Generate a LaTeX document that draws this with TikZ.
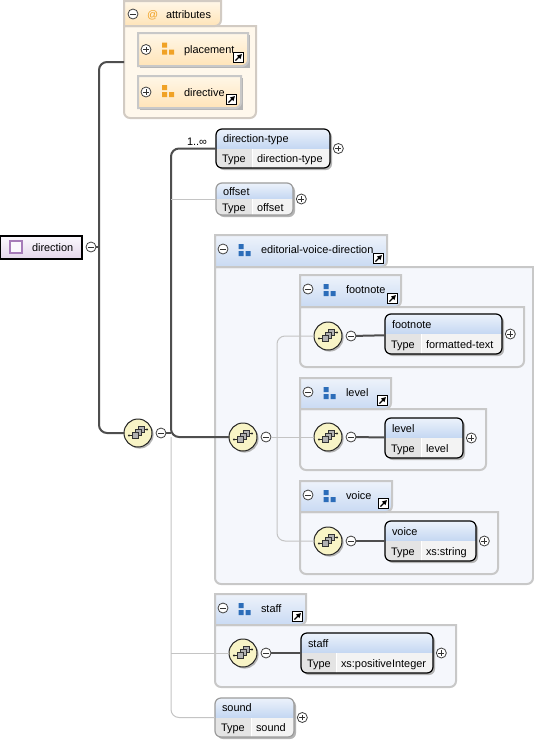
\documentclass[tikz,border=0pt]{standalone}
\usepackage{fontspec}
\setmainfont{Liberation Sans}
\usepackage{tikz}
\usetikzlibrary{calc, positioning, fit, shadows, arrows.meta}

\definecolor{hdtop}{HTML}{ECF2FB}
\definecolor{hdbot}{HTML}{C4D7F2}
\definecolor{grptop}{HTML}{EEF3FB}
\definecolor{grpbot}{HTML}{C9DAF3}
\definecolor{grpbody}{HTML}{F5F7FC}
\definecolor{grpline}{HTML}{C8C8C8}
\definecolor{attrtop}{HTML}{FFF7E8}
\definecolor{attrbot}{HTML}{FFE4B8}
\definecolor{attrbody}{HTML}{FFF8EC}
\definecolor{attrline}{HTML}{D2CBC3}
\definecolor{typec}{HTML}{E4E4E4}
\definecolor{valc}{HTML}{F3F3F3}
\definecolor{seqfill}{HTML}{F8F4C6}
\definecolor{shadowc}{HTML}{B4B4B4}
\definecolor{dirtop}{HTML}{FBF8FD}
\definecolor{dirbot}{HTML}{E4D6EA}
\definecolor{diricon}{HTML}{A67BB8}
\definecolor{cmpblue}{HTML}{2C6DB9}
\definecolor{cmporange}{HTML}{F0A226}
\definecolor{connd}{HTML}{4E4E4E}
\definecolor{connl}{HTML}{C4C4C4}
\definecolor{optline}{HTML}{9C9C9C}

\tikzset{
  every node/.style={font=\fontsize{8.2}{9.8}\selectfont, inner sep=0pt, outer sep=0pt},
  req/.style={draw=connd, line width=1.5pt},
  opt/.style={draw=connl, line width=0.75pt},
  txt/.style={anchor=base west},
  pmcircle/.style={circle, draw=black!75, fill=white, line width=0.6pt, minimum size=7.5pt},
  minusc/.style={pmcircle, path picture={\draw[black!80, line width=0.6pt] ([xshift=-2.2pt]path picture bounding box.center) -- ([xshift=2.2pt]path picture bounding box.center);}},
  plusc/.style={pmcircle, path picture={\draw[black!80, line width=0.6pt] ([xshift=-2.2pt]path picture bounding box.center) -- ([xshift=2.2pt]path picture bounding box.center) ([yshift=-2.2pt]path picture bounding box.center) -- ([yshift=2.2pt]path picture bounding box.center);}},
  seqc/.style={circle, draw=black!85, fill=seqfill, line width=0.75pt, minimum size=21pt, drop shadow={shadow xshift=1.2pt, shadow yshift=-1.2pt, fill=shadowc, opacity=1}},
  seqicon/.pic={
    \draw[black!85, line width=0.7pt] (-9,2.5) -- (-3,2.5) (3,-3.5) -- (9,-3.5);
    \fill[black!85] (-9,2.5) circle (0.9pt) (9,-3.5) circle (0.9pt);
    \filldraw[fill=gray!60, draw=black!80, line width=0.55pt] (0,-7) rectangle (6,-1);
    \filldraw[fill=gray!60, draw=black!80, line width=0.55pt] (-3,-4) rectangle (3,2);
    \filldraw[fill=gray!60, draw=black!80, line width=0.55pt] (-6,-1) rectangle (0,5);
  },
}

% component icon: three small squares
\newcommand{\cmpicon}[3]{%
  \fill[#3] ({#1-6},{#2-6}) rectangle ({#1-1},{#2-1})
            ({#1-6},{#2+1}) rectangle ({#1-1},{#2+6})
            ({#1+1},{#2+1}) rectangle ({#1+6},{#2+6});
}
% reference arrow icon
\newcommand{\refarrow}[2]{%
  \filldraw[fill=white, draw=black, line width=0.75pt] ({#1-5},{#2-5}) rectangle ({#1+5},{#2+5});
  \draw[black, line width=1pt, -{Triangle[length=3.5pt, width=3.5pt]}] ({#1-3},{#2+3}) -- ({#1+3.5},{#2-3.5});
}
% element: [border] name x1 y1 x2 y2 xdiv title type
\newcommand{\elembox}[9][black]{%
  \fill[shadowc, rounded corners=4.5pt] ({#3+2},{#4+2}) rectangle ({#5+2},{#6+2});
  \begin{scope}
    \clip[rounded corners=4.5pt] (#3,#4) rectangle (#5,#6);
    \shade[top color=hdtop, bottom color=hdbot] (#3,#4) rectangle (#5,{(#4+#6)/2});
    \fill[typec] (#3,{(#4+#6)/2}) rectangle (#7,#6);
    \fill[valc] (#7,{(#4+#6)/2}) rectangle (#5,#6);
    \draw[white, line width=0.75pt] (#7,{(#4+#6)/2}) -- (#7,#6);
  \end{scope}
  \node[fit={(#3,#4) (#5,#6)}, draw=#1, rounded corners=4.5pt, line width=0.9pt] (#2) {};
  \node[txt] at ({#3+7},{(3*#4+#6)/4+4}) {#8};
  \node[txt] at ({#3+6},{(#4+3*#6)/4+4}) {Type};
  \node[txt] at ({#7+5},{(#4+3*#6)/4+4}) {#9};
  \node[plusc, right=2.5pt of #2] (#2-plus) {};
}
% group: name x1 ytop xtab ytabbottom x2 y2 label
\newcommand{\grpbox}[8]{%
  \filldraw[draw=grpline, fill=grpbody, line width=1.5pt] (#2,#5) -- (#6,#5) [rounded corners=4.5pt] -- (#6,#7) -- (#2,#7) [sharp corners] -- cycle;
  \shadedraw[top color=grptop, bottom color=grpbot, draw=grpline, line width=1.5pt] (#2,#5) -- (#2,#3) -- (#4,#3) [rounded corners=4.5pt] -- (#4,#5) [sharp corners] -- cycle;
  \node[fit={(#2,#3) (#6,#7)}] (#1) {};
  \node[minusc] (#1-min) at ({#2+8},{#3+14}) {};
  \cmpicon{#2+29.5}{#3+15}{cmpblue}
  \node[txt] (#1-lbl) at ({#2+46},{#3+18}) {#8};
  \refarrow{#4-8.5}{#5-8.5}
}
% attribute reference: name x1 y1 x2 y2 label
\newcommand{\attrbox}[6]{%
  \fill[shadowc] ({#2+1.5},{#3+1.5}) rectangle ({#4+1.5},{#5+1.5});
  \shadedraw[top color=attrtop, bottom color=attrbot, draw=grpline, line width=1.5pt] (#2,#5) -- (#2,#3) -- (#4,#3) [rounded corners=4.5pt] -- (#4,#5) [sharp corners] -- cycle;
  \node[fit={(#2,#3) (#4,#5)}] (#1) {};
  \node[plusc] (#1-plus) at ({#2+8},{(#3+#5)/2}) {};
  \cmpicon{#2+30}{(#3+#5)/2-1}{cmporange}
  \node[txt] at ({#2+46},{(#3+#5)/2+4}) {#6};
  \refarrow{#4-9.5}{#5-8.5}
}

\begin{document}
\begin{tikzpicture}[x=0.75pt, y=-0.75pt]
  \fill[white] (0,0) rectangle (534,743);
  \useasboundingbox (0,0) rectangle (534,743);

  % attributes
  \filldraw[draw=attrline, fill=attrbody, line width=1.5pt] (124,26) -- (256,26) [rounded corners=4.5pt] -- (256,118) -- (124,118) [sharp corners] -- cycle;
  \shadedraw[top color=attrtop, bottom color=attrbot, draw=attrline, line width=1.5pt] (124,26) -- (124,1) -- (221,1) [rounded corners=4.5pt] -- (221,26) [sharp corners] -- cycle;
  \node[fit={(124,1) (256,118)}] (attrs) {};
  \node[minusc] (attrs-min) at (133,14) {};
  \node[txt, text=cmporange] at (147,18) {@};
  \node[txt] at (166,18) {attributes};
  \attrbox{placement}{138}{33}{248}{66}{placement}
  \attrbox{directive}{138}{76}{241}{108}{directive}
  \coordinate (attrs-in) at (124,62);

  % root
  \node[fit={(0.5,236) (82,259)}, draw=black, line width=0.9pt, top color=dirtop, bottom color=dirbot] (direction) {};
  \filldraw[fill=dirtop, draw=diricon, line width=1pt] (10,241) rectangle (22,253);
  \node[txt] at (32,251) {direction};
  \node[minusc] (dirmin) at (91,247) {};

  % groups
  \grpbox{evdgrp}{215}{235}{387}{267}{533}{584}{editorial-voice-direction}
  \grpbox{fngrp}{300}{275}{401}{307}{524}{367}{footnote}
  \grpbox{lvgrp}{300}{378}{391}{409}{486}{470}{level}
  \grpbox{vcgrp}{300}{481}{392}{512}{498}{574}{voice}
  \grpbox{stgrp}{215}{594}{306}{625}{456}{687}{staff}

  % sequences
  \node[seqc] (s1) at (138,433) {}; \pic at (s1) {seqicon};
  \node[minusc, right=3pt of s1] (s1min) {};
  \node[seqc] (s2) at (243,437) {}; \pic at (s2) {seqicon};
  \node[minusc, right=3pt of s2] (s2min) {};
  \node[seqc] (fnseq) at (328,336) {}; \pic at (fnseq) {seqicon};
  \node[minusc, right=3pt of fnseq] (fnmin) {};
  \node[seqc] (lvseq) at (328,437) {}; \pic at (lvseq) {seqicon};
  \node[minusc, right=3pt of lvseq] (lvmin) {};
  \node[seqc] (vcseq) at (328,541) {}; \pic at (vcseq) {seqicon};
  \node[minusc, right=3pt of vcseq] (vcmin) {};
  \node[seqc] (stseq) at (243,653) {}; \pic at (stseq) {seqicon};
  \node[minusc, right=3pt of stseq] (stmin) {};

  % elements
  \elembox{dirtype}{216}{129}{330}{168}{252}{direction-type}{direction-type}
  \elembox[optline]{offset}{216}{183}{293}{215}{252}{offset}{offset}
  \elembox{footnote}{385}{314}{502}{354}{421}{footnote}{formatted-text}
  \elembox{level}{385}{418}{463}{458}{421}{level}{level}
  \elembox{voice}{385}{521}{476}{561}{421}{voice}{xs:string}
  \elembox{staff}{301}{633}{433}{673}{336}{staff}{xs:positiveInteger}
  \elembox[optline]{sound}{215}{698}{294}{737}{251}{sound}{sound}
  \node[txt] (card) at (187,145) {1..∞};

  % connectors
  \draw[req, rounded corners=6pt] (attrs-in) -- (99,62) -- (99,433) -- (s1);
  \draw[req] (dirmin) -- (99,247);
  \draw[req] (s1min) -- (171,433);
  \draw[req, rounded corners=6pt] (dirtype.west) -| (171,437) -- (s2);
  \draw[opt] (offset.west) -- (171,199);
  \draw[opt, rounded corners=6pt] (171,437) |- (sound.west);
  \draw[opt] (stseq) -- (171,653);
  \draw[opt] (s2min) -- (lvseq);
  \draw[opt, rounded corners=6pt] (fnseq) -| (277,541) -- (vcseq);
  \draw[req] (fnmin) -- (footnote);
  \draw[req] (lvmin) -- (level);
  \draw[req] (vcmin) -- (voice);
  \draw[req] (stmin) -- (staff);
\end{tikzpicture}
\end{document}
